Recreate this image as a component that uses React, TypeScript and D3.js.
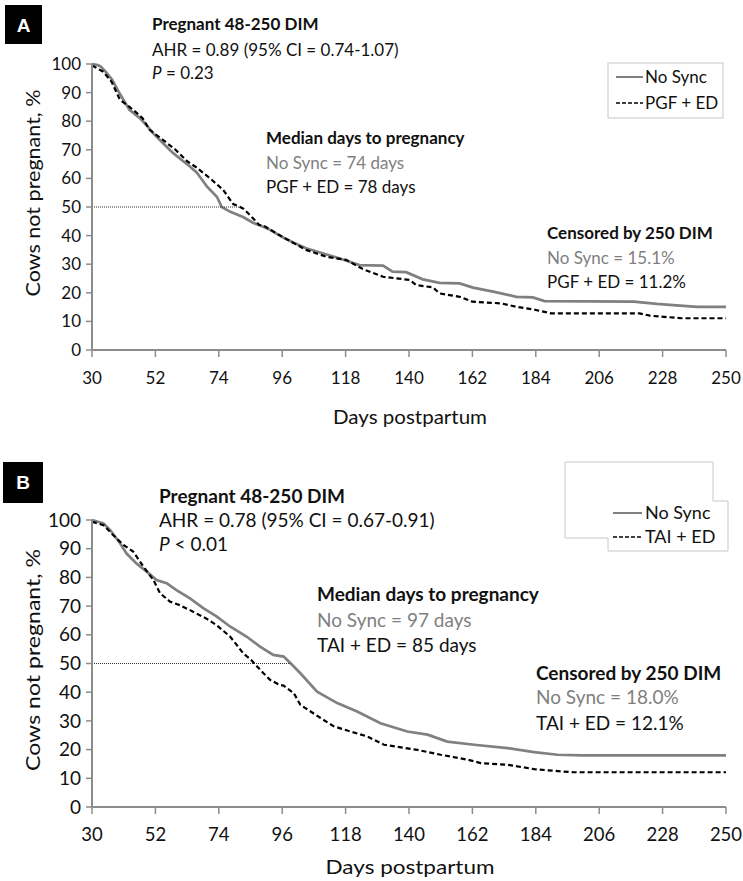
import React from "react";
import * as d3 from "d3";

// ---------- data ----------
const xTicks = [30, 52, 74, 96, 118, 140, 162, 184, 206, 228, 250];
const yTicks = [0, 10, 20, 30, 40, 50, 60, 70, 80, 90, 100];

const noSyncA: [number, number][] = [
  [30, 100], [32, 99.6], [33, 99.2], [35, 97], [37, 94.5], [39.7, 89.5], [43, 84], [46.7, 81],
  [49, 78.5], [51, 76], [54.6, 72.4], [58, 69], [61, 66.5], [63, 65], [66.4, 62], [70, 57],
  [73.4, 53.5], [75, 50], [78, 48.3], [82.4, 46.5], [86, 44.4], [88, 43.7], [91.8, 42], [96, 39.5],
  [100, 37.5], [104.3, 35.6], [110, 33.8], [116, 32], [122.8, 29.7], [131, 29.5], [134.3, 27.4],
  [139, 27.2], [144.8, 24.7], [150.6, 23.5], [157.6, 23.3], [162.2, 21.8], [169.2, 20.4],
  [177.3, 18.6], [183, 18.4], [187, 17.1], [218, 16.9], [226, 16.1], [231.6, 15.7], [240, 15.1],
  [250, 15.1],
];
const pgfEdA: [number, number][] = [
  [30, 99.5], [33.9, 97.3], [36.8, 93.8], [39.7, 87.5], [43, 85], [46, 82.5], [47.6, 81], [50, 77],
  [54.6, 73.5], [59, 70], [63, 66], [66, 64], [71, 60], [75.5, 56], [79, 51], [81.2, 50.1],
  [82.4, 49.5], [85, 47], [88, 43.7], [89.5, 43.5], [96, 39.6], [104.3, 35], [111.3, 32.6],
  [118.2, 31.5], [124, 28.3], [131, 25.6], [140.2, 24.5], [142.5, 22.7], [148.3, 21.9],
  [150.6, 19.8], [157.6, 18.6], [162, 16.9], [172, 16.3], [177.3, 15.1], [183, 14.2],
  [189.4, 12.8], [220, 12.8], [223.6, 12.0], [234.6, 11.1], [250, 11.1],
];
const noSyncB: [number, number][] = [
  [30, 100], [34, 98.8], [36.3, 96.5], [39.8, 91.8], [42, 88.3], [45.5, 84.8], [49, 82],
  [52.4, 79.1], [55.9, 78], [59.3, 75.6], [64, 72.7], [68.6, 69.3], [73.2, 66.4], [77.9, 62.9],
  [83.6, 59.4], [88.3, 55.9], [92.9, 53], [96.5, 52.4], [98.9, 50.1], [102.3, 46.6],
  [108.1, 40.2], [115.1, 36.2], [122, 33.3], [130.1, 29.2], [139.4, 26.3], [146.4, 25.2],
  [153.3, 22.8], [162.6, 21.7], [174.2, 20.5], [183.4, 19.1], [191.5, 18.2], [200, 18], [250, 18],
];
const taiEdB: [number, number][] = [
  [30, 99.4], [34, 98.2], [37.4, 94.7], [40.9, 91.3], [44.3, 89], [47.8, 83.8], [51.3, 79.1],
  [53.6, 74.5], [57, 71.6], [60.3, 70.4], [64, 68.6], [69.6, 65.7], [73.2, 63.4], [77.9, 59.4],
  [80.2, 56.5], [82.5, 53.5], [85, 51.5], [87, 49.3], [89.5, 46.6], [91.8, 44.3], [95, 42.6],
  [96.5, 42.3], [100, 39.7], [102.3, 35.6], [109.3, 31], [113.9, 28.1], [119.7, 26.3],
  [125.5, 24.6], [131.3, 21.7], [142.9, 19.9], [151, 18.2], [160.3, 16.5], [164.9, 15.3],
  [174.2, 14.7], [183.4, 13.2], [192.7, 12.4], [197, 12.1], [250, 12.1],
];

const medianEndA = 81.3;
const medianEndB = 98.9;

const GRAY = "#808080";
const FONT = "Lato, 'DejaVu Sans', sans-serif";

type PanelProps = {
  top: number;
  bottom: number;
  solid: [number, number][];
  dashed: [number, number][];
  medianEnd: number;
  yTickFs: number;
  xTickFs: number;
  titleFs: number;
  xTitleY: number;
  xTickY: number;
  yTitleY: number;
  yTitleLen: number;
  xTitleLen: number;
};

function Panel(p: PanelProps) {
  const x = d3.scaleLinear().domain([30, 250]).range([92, 726]);
  const y = d3.scaleLinear().domain([0, 100]).range([p.bottom, p.top]);
  const line = d3
    .line<[number, number]>()
    .x((d) => x(d[0]))
    .y((d) => y(d[1]))
    .curve(d3.curveLinear);
  const axisColor = "#8c8c8c";
  return (
    <g>
      <path d={line(p.solid) || ""} fill="none" stroke={GRAY} strokeWidth={2.7} />
      <path d={line(p.dashed) || ""} fill="none" stroke="#000" strokeWidth={2.2} strokeDasharray="5,3" />
      <line x1={x(30)} x2={x(p.medianEnd)} y1={y(50)} y2={y(50)} stroke="#333" strokeWidth={1} strokeDasharray="1,1" />
      {/* axes */}
      <line x1={x(30)} x2={x(30)} y1={y(0)} y2={y(100)} stroke={axisColor} strokeWidth={2} />
      <line x1={x(30)} x2={x(250)} y1={y(0)} y2={y(0)} stroke={axisColor} strokeWidth={2} />
      {yTicks.map((t) => (
        <g key={"y" + t}>
          <line x1={x(30) - 6} x2={x(30)} y1={y(t)} y2={y(t)} stroke={axisColor} strokeWidth={1.5} />
          <text x={x(30) - 11} y={y(t)} dy="0.35em" textAnchor="end" fontSize={p.yTickFs} fontFamily={FONT} fill="#111">
            {t}
          </text>
        </g>
      ))}
      {xTicks.map((t) => (
        <g key={"x" + t}>
          <line x1={x(t)} x2={x(t)} y1={y(0)} y2={y(0) + 7} stroke={axisColor} strokeWidth={1.5} />
          <text x={x(t)} y={p.xTickY} dy="0.35em" textAnchor="middle" fontSize={p.xTickFs} fontFamily={FONT} fill="#111">
            {t}
          </text>
        </g>
      ))}
      <text x={410} y={p.xTitleY} dy="0.35em" textAnchor="middle" fontSize={p.titleFs} fontFamily={FONT} fill="#111"
        textLength={p.xTitleLen} lengthAdjust="spacingAndGlyphs">
        Days postpartum
      </text>
      <text transform={`translate(33,${p.yTitleY}) rotate(-90)`} dy="0.35em" textAnchor="middle" fontSize={p.titleFs}
        fontFamily={FONT} fill="#111" textLength={p.yTitleLen} lengthAdjust="spacingAndGlyphs">
        Cows not pregnant, %
      </text>
    </g>
  );
}

export default function App() {
  return (
    <svg width={743} height={881} style={{ position: "absolute", left: 0, top: 0, background: "#fff" }}
      fontFamily={FONT}>
      <rect x={0} y={0} width={743} height={881} fill="#fff" />
      {/* Panel A */}
      <rect x={5} y={5} width={37} height={39} fill="#000" />
      <text x={23.5} y={25} dy="0.35em" textAnchor="middle" fill="#fff" fontWeight="bold" fontSize={19} fontFamily="'Liberation Sans', Arial, sans-serif">A</text>
      <Panel top={64} bottom={350} solid={noSyncA} dashed={pgfEdA} medianEnd={medianEndA}
        yTickFs={17} xTickFs={17} titleFs={19} xTickY={378} xTitleY={417} yTitleY={193} yTitleLen={207} xTitleLen={154} />
      <g fontSize={17} fill="#111">
        <text x={152} y={30} fontWeight="bold">Pregnant 48-250 DIM</text>
        <text x={152} y={56}>AHR = 0.89 (95% CI = 0.74-1.07)</text>
        <text x={152} y={79}><tspan fontStyle="italic">P</tspan> = 0.23</text>
        <text x={266} y={144} fontWeight="bold">Median days to pregnancy</text>
        <text x={266} y={169} fill={GRAY}>No Sync = 74 days</text>
        <text x={266} y={193}>PGF + ED = 78 days</text>
        <text x={547} y={239} fontWeight="bold">Censored by 250 DIM</text>
        <text x={547} y={264} fill={GRAY}>No Sync = 15.1%</text>
        <text x={547} y={288}>PGF + ED = 11.2%</text>
      </g>
      {/* Legend A */}
      <rect x={608} y={63} width={115} height={55} fill="#fff" stroke="#c8c8c8" strokeWidth={1} />
      <line x1={616} x2={643} y1={77} y2={77} stroke={GRAY} strokeWidth={2} />
      <text x={645} y={83} fontSize={17} fill="#111">No Sync</text>
      <line x1={616} x2={643} y1={103} y2={103} stroke="#000" strokeWidth={1.6} strokeDasharray="4,2" />
      <text x={645} y={109} fontSize={17} fill="#111">PGF + ED</text>

      {/* Panel B */}
      <rect x={3} y={462} width={40} height={41} fill="#000" />
      <text x={23} y={482.5} dy="0.35em" textAnchor="middle" fill="#fff" fontWeight="bold" fontSize={19} fontFamily="'Liberation Sans', Arial, sans-serif">B</text>
      <Panel top={520} bottom={807} solid={noSyncB} dashed={taiEdB} medianEnd={medianEndB}
        yTickFs={19} xTickFs={18.5} titleFs={20} xTickY={835} xTitleY={867} yTitleY={660} yTitleLen={222} xTitleLen={169} />
      <g fontSize={19} fill="#111">
        <text x={159} y={503} fontWeight="bold">Pregnant 48-250 DIM</text>
        <text x={159} y={527}>AHR = 0.78 (95% CI = 0.67-0.91)</text>
        <text x={159} y={551}><tspan fontStyle="italic">P</tspan> &lt; 0.01</text>
        <text x={317} y={601} fontWeight="bold">Median days to pregnancy</text>
        <text x={317} y={627} fill={GRAY}>No Sync = 97 days</text>
        <text x={317} y={652}>TAI + ED = 85 days</text>
        <text x={536} y={680} fontWeight="bold">Censored by 250 DIM</text>
        <text x={536} y={704} fill={GRAY}>No Sync = 18.0%</text>
        <text x={536} y={730}>TAI + ED = 12.1%</text>
      </g>
      {/* Legend B */}
      <path d="M565,462 L713,462 L713,501 L728,501 L728,551 L608,551 L608,538 L565,538 Z" fill="#fff" stroke="#c8c8c8" strokeWidth={1} />
      <line x1={613} x2={642} y1={513} y2={513} stroke={GRAY} strokeWidth={2} />
      <text x={645} y={519} fontSize={18} fill="#111">No Sync</text>
      <line x1={613} x2={642} y1={537} y2={537} stroke="#000" strokeWidth={1.6} strokeDasharray="4,2" />
      <text x={645} y={543} fontSize={18} fill="#111">TAI + ED</text>
    </svg>
  );
}
